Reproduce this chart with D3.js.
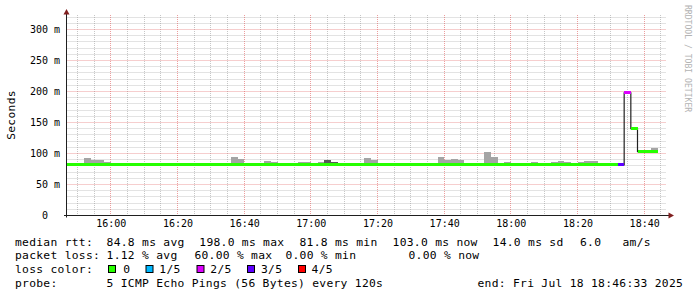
<!DOCTYPE html>
<html>
<head>
<meta charset="utf-8">
<script src="https://cdn.jsdelivr.net/npm/d3@7"></script>
<style>
  body { margin: 0; background: #fff; }
  svg { display: block; }
  text { font-family: "DejaVu Sans Mono", monospace; fill: #000; }
</style>
</head>
<body>
<div id="chart"></div>
<script>
// Graph window (end time from the legend) and probe step
var startTime = new Date(2025, 6, 18, 15, 46, 33);
var endTime = new Date(2025, 6, 18, 18, 46, 33);
var firstSlot = new Date(2025, 6, 18, 15, 46, 0);
var stepMinutes = 2;

// Median rtt per 2 min slot (ms)
var medianRtt = [
  82.3, 82.3, 82.3, 82.3, 82.3, 82.3, 82.3, 82.3, 81.8, 82.3,
  82.3, 82.3, 81.8, 82.3, 82.3, 82.3, 82.3, 82.3, 82.3, 82.3,
  82.3, 82.8, 82.8, 82.8, 82.3, 82.3, 82.3, 82.3, 82.3, 82.3,
  82.3, 82.3, 82.3, 82.8, 82.3, 82.3, 82.3, 82.3, 82.3, 82.3,
  82.3, 81.8, 82.3, 82.3, 82.3, 82.3, 82.3, 82.3, 82.3, 82.3,
  82.3, 81.8, 81.8, 82.5, 81.8, 82.3, 82.3, 82.3, 82.3, 82.3,
  82.3, 82.8, 82.8, 82.3, 82.3, 82.3, 82.3, 82.3, 82.3, 82.3,
  82.3, 82.3, 82.3, 82.3, 82.3, 82.3, 81.8, 82.3, 82.3, 82.3,
  82.3, 82.3, 82.3, 81.8, 198.0, 140.0, 103.0, 103.0, 103.0
];

// Lost pings out of 5 per slot
var lossCount = [
  0, 0, 0, 0, 0, 0, 0, 0, 0, 0,
  0, 0, 0, 0, 0, 0, 0, 0, 0, 0,
  0, 0, 0, 0, 0, 0, 0, 0, 0, 0,
  0, 0, 0, 0, 0, 0, 0, 0, 0, 0,
  0, 0, 0, 0, 0, 0, 0, 0, 0, 0,
  0, 0, 0, 0, 0, 0, 0, 0, 0, 0,
  0, 0, 0, 0, 0, 0, 0, 0, 0, 0,
  0, 0, 0, 0, 0, 0, 0, 0, 0, 0,
  0, 0, 0, 3, 2, 0, 0, 0, 0
];

// Highest ping per slot (outer smoke)
var pingMax = [
  83.0, 83.0, 83.0, 93.0, 89.0, 89.0, 86.4, 83.0, 82.5, 85.0,
  83.0, 83.0, 82.5, 83.0, 83.0, 83.0, 83.0, 83.0, 83.0, 83.0,
  83.0, 83.3, 83.3, 83.3, 83.0, 94.0, 91.0, 83.0, 83.0, 83.0,
  87.6, 86.0, 83.0, 83.3, 83.0, 85.5, 85.5, 83.0, 86.0, 90.0,
  86.5, 82.5, 83.0, 83.0, 85.0, 93.0, 89.0, 83.0, 83.0, 83.0,
  83.0, 82.5, 82.5, 83.0, 82.5, 83.0, 94.0, 89.0, 90.8, 89.0,
  83.0, 83.3, 83.3, 102.7, 94.5, 83.0, 86.5, 83.0, 83.0, 83.0,
  86.0, 83.0, 83.0, 86.0, 87.5, 86.0, 84.5, 86.0, 87.5, 87.5,
  84.5, 83.0, 83.0, 82.5, 199.0, 141.0, 103.5, 106.4, 108.5
];

// Second highest ping per slot (inner, darker smoke)
var pingUpper = [
  82.5, 82.5, 82.5, 82.5, 82.5, 82.5, 82.5, 82.5, 82.0, 82.5,
  82.5, 82.5, 82.0, 82.5, 82.5, 82.5, 82.5, 82.5, 82.5, 82.5,
  82.5, 83.0, 83.0, 83.0, 82.5, 82.5, 82.5, 82.5, 82.5, 82.5,
  82.5, 82.5, 82.5, 83.0, 82.5, 82.5, 82.5, 82.5, 82.5, 90.0,
  86.5, 82.0, 82.5, 82.5, 82.5, 82.5, 82.5, 82.5, 82.5, 82.5,
  82.5, 82.0, 82.0, 82.7, 82.0, 82.5, 82.5, 82.5, 82.5, 82.5,
  82.5, 83.0, 83.0, 82.5, 82.5, 82.5, 82.5, 82.5, 82.5, 82.5,
  82.5, 82.5, 82.5, 82.5, 82.5, 82.5, 82.0, 82.5, 82.5, 82.5,
  82.5, 82.5, 82.5, 82.0, 198.2, 140.2, 103.2, 103.2, 103.2
];

// Loss colour legend
var lossLabels = ["0", "1/5", "2/5", "3/5", "4/5"];
var lossColors = ["#26ff00", "#00b8ff", "#dd00ff", "#5e00ff", "#ff0000"];

// Axis ticks
var yTicks = [0, 50, 100, 150, 200, 250, 300];
var yTickLabels = ["0\u00a0\u00a0", "50 m", "100 m", "150 m", "200 m", "250 m", "300 m"];

// Legend texts
var rttLegend = ["median rtt:", "84.8 ms avg", "198.0 ms max", "81.8 ms min", "103.0 ms now", "14.0 ms sd", "6.0", "am/s"];
var lossLegend = ["packet loss:", "1.12 % avg", "60.00 % max", "0.00 % min", "0.00 % now"];
var probeLegend = ["probe:", "5 ICMP Echo Pings (56 Bytes) every 120s", "end: Fri Jul 18 18:46:33 2025"];

var svgWidth = 697;
var svgHeight = 297;
var plot = { left: 66, right: 666, top: 15, bottom: 215.5 };

var svg = d3.select("#chart")
  .append("svg")
  .attr("width", svgWidth)
  .attr("height", svgHeight);

svg.append("rect").attr("width", svgWidth).attr("height", svgHeight).attr("fill", "#fff");

var x = d3.scaleTime().domain([startTime, endTime]).range([plot.left, plot.right]);
var y = d3.scaleLinear().domain([0, 322.58]).range([plot.bottom, plot.top + 0.5]);

function crisp(v) { return Math.round(v - 0.5) + 0.5; }

// slot table
var slots = medianRtt.map(function(m, i) {
  var t0 = d3.timeMinute.offset(firstSlot, i * stepMinutes);
  return {
    t0: t0,
    t1: d3.timeMinute.offset(t0, stepMinutes),
    median: m,
    loss: lossCount[i],
    max: pingMax[i],
    upper: pingUpper[i]
  };
});

// Grid
var grid = svg.append("g");
var minorY = d3.range(10, 330, 10).filter(function(v) { return v % 50 !== 0; });
var majorY = yTicks.filter(function(v) { return v > 0; });
var minorX = d3.timeMinute.every(5).range(startTime, endTime).filter(function(d) { return d.getMinutes() % 20 !== 0; });
var majorX = d3.timeMinute.every(20).range(startTime, endTime);

grid.selectAll(".hmin").data(minorY).enter().append("line")
  .attr("x1", plot.left + 0.5).attr("x2", plot.right)
  .attr("y1", function(d) { return crisp(y(d)); })
  .attr("y2", function(d) { return crisp(y(d)); })
  .attr("stroke", "rgba(143,143,143,0.5)").attr("stroke-dasharray", "1,1");

grid.selectAll(".vmin").data(minorX).enter().append("line")
  .attr("y1", plot.top).attr("y2", plot.bottom)
  .attr("x1", function(d) { return crisp(x(d)); })
  .attr("x2", function(d) { return crisp(x(d)); })
  .attr("stroke", "rgba(143,143,143,0.5)").attr("stroke-dasharray", "1,1");

grid.selectAll(".hmaj").data(majorY).enter().append("line")
  .attr("x1", plot.left + 0.5).attr("x2", plot.right)
  .attr("y1", function(d) { return crisp(y(d)); })
  .attr("y2", function(d) { return crisp(y(d)); })
  .attr("stroke", "rgba(222,79,79,0.55)").attr("stroke-dasharray", "1,1");

grid.selectAll(".vmaj").data(majorX).enter().append("line")
  .attr("y1", plot.top).attr("y2", plot.bottom)
  .attr("x1", function(d) { return crisp(x(d)); })
  .attr("x2", function(d) { return crisp(x(d)); })
  .attr("stroke", "rgba(222,79,79,0.55)").attr("stroke-dasharray", "1,1");

// Plot clip
svg.append("clipPath").attr("id", "plotclip")
  .append("rect")
  .attr("x", plot.left + 1).attr("y", plot.top)
  .attr("width", plot.right - plot.left - 1).attr("height", plot.bottom - plot.top);

var chartGroup = svg.append("g").attr("clip-path", "url(#plotclip)");

// Smoke
chartGroup.selectAll(".smoke").data(slots).enter().append("rect")
  .attr("x", function(d) { return x(d.t0); })
  .attr("width", function(d) { return x(d.t1) - x(d.t0); })
  .attr("y", function(d) { return y(d.max); })
  .attr("height", function(d) { return Math.max(0, y(d.median) - y(d.max)); })
  .attr("fill", "#a4a4a4")
  .attr("shape-rendering", "crispEdges");

chartGroup.selectAll(".smokein").data(slots).enter().append("rect")
  .attr("x", function(d) { return x(d.t0); })
  .attr("width", function(d) { return x(d.t1) - x(d.t0); })
  .attr("y", function(d) { return y(d.upper); })
  .attr("height", function(d) { return Math.max(0, y(d.median) - y(d.upper)); })
  .attr("fill", "#585858")
  .attr("shape-rendering", "crispEdges");

// Median step line
var stepPoints = slots.map(function(d) { return [x(d.t0), y(d.median)]; });
var last = slots[slots.length - 1];
stepPoints.push([x(last.t1), y(last.median)]);

chartGroup.append("path")
  .attr("d", d3.line().curve(d3.curveStepAfter)(stepPoints))
  .attr("fill", "none")
  .attr("stroke", "#202020")
  .attr("stroke-width", 1.2);

// Loss coloured median band
chartGroup.selectAll(".band").data(slots).enter().append("rect")
  .attr("x", function(d) { return x(d.t0); })
  .attr("width", function(d) { return x(d.t1) - x(d.t0); })
  .attr("y", function(d) { return y(d.median) - 1.5; })
  .attr("height", 3)
  .attr("fill", function(d) { return lossColors[d.loss]; })
  .attr("shape-rendering", "crispEdges");

// Axes
var leftAxis = d3.axisLeft(y).tickValues(yTicks).tickSize(0).tickPadding(6)
  .tickFormat(function(d, i) { return yTickLabels[i]; });
var bottomAxis = d3.axisBottom(x).tickValues(majorX).tickSize(0).tickPadding(5)
  .tickFormat(d3.timeFormat("%H:%M"));

var yAxisG = svg.append("g").attr("transform", "translate(" + plot.left + ",0)").call(leftAxis);
var xAxisG = svg.append("g").attr("transform", "translate(0," + (plot.bottom - 0.5) + ")").call(bottomAxis);
[yAxisG, xAxisG].forEach(function(g) {
  g.select(".domain").remove();
  g.attr("font-family", "DejaVu Sans Mono").attr("font-size", 10);
  g.selectAll("text").attr("fill", "#000");
});

svg.append("line")
  .attr("x1", plot.left + 0.5).attr("x2", plot.left + 0.5)
  .attr("y1", plot.bottom + 2).attr("y2", 13)
  .attr("stroke", "#1f1f1f");
svg.append("line")
  .attr("x1", plot.left - 2).attr("x2", 669)
  .attr("y1", plot.bottom).attr("y2", plot.bottom)
  .attr("stroke", "#1f1f1f");

svg.append("path").attr("d", "M63.5,14.5L69.5,14.5L66.5,9Z").attr("fill", "#801f1f");
svg.append("path").attr("d", "M668.5,212.5L668.5,218.5L674,215.5Z").attr("fill", "#801f1f");

// Y title
svg.append("text")
  .attr("transform", "translate(14.5,115) rotate(-90)")
  .attr("text-anchor", "middle")
  .attr("font-size", 11.3)
  .attr("letter-spacing", 0.3)
  .text("Seconds");

// Watermark
svg.append("text")
  .attr("transform", "translate(684.5,5) rotate(90)")
  .attr("font-size", 8.1)
  .style("fill", "#b3b3b3")
  .text("RRDTOOL / TOBI OETIKER");

// Legend
var legend = svg.append("g").attr("font-size", 11.3).attr("letter-spacing", 0.29);

function legendLine(texts, xs, baseline) {
  legend.selectAll(null).data(texts).enter().append("text")
    .attr("x", function(d, i) { return xs[i]; })
    .attr("y", baseline)
    .style("white-space", "pre")
    .text(function(d) { return d; });
}

legendLine(rttLegend, [15, 106.6, 199.3, 299.5, 392.6, 492.6, 580, 622.5], 245.5);
legendLine(lossLegend, [15, 106.6, 194.4, 285.4, 408.5], 259.3);
legendLine(["loss color:"], [15], 273.1);
legendLine(probeLegend, [15, 106.6, 477.5], 286.9);

var boxX = [108.5, 146, 197, 247.5, 298.5];
var boxTextX = [123.3, 159.3, 210.3, 261, 311.6];
legend.selectAll(".lbox").data(lossColors).enter().append("rect")
  .attr("x", function(d, i) { return boxX[i]; })
  .attr("y", 265.5)
  .attr("width", 7).attr("height", 7)
  .attr("fill", function(d) { return d; })
  .attr("stroke", "#000");
legend.selectAll(".ltext").data(lossLabels).enter().append("text")
  .attr("x", function(d, i) { return boxTextX[i]; })
  .attr("y", 273.1)
  .text(function(d) { return d; });
</script>
</body>
</html>
